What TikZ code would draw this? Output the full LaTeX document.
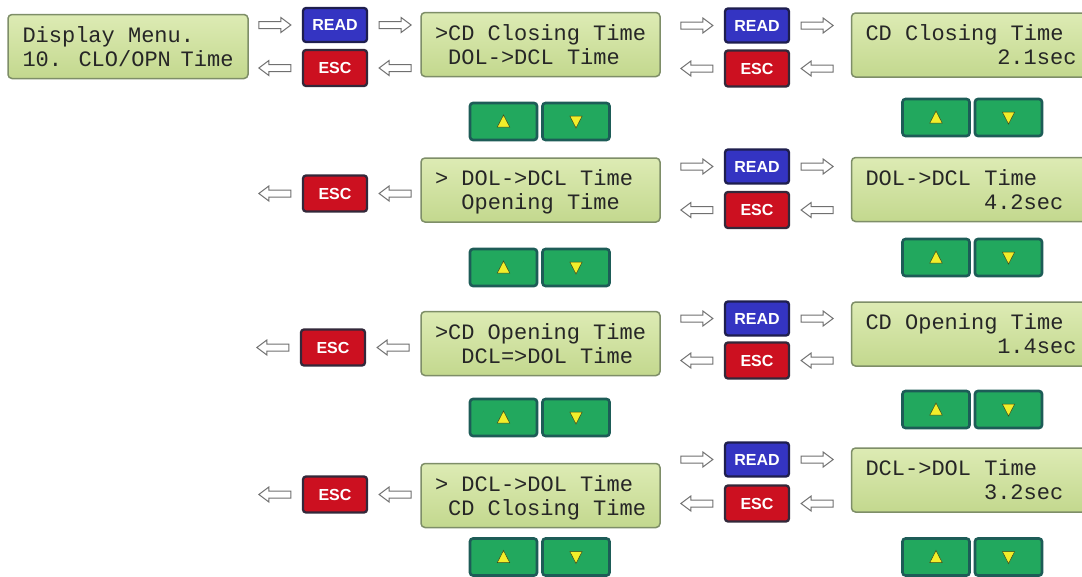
\documentclass[tikz,border=0pt]{standalone}
\usepackage{fontspec}
\setmainfont{Liberation Sans}
\newfontfamily\lcdfont{Liberation Mono}
\usetikzlibrary{calc}
\definecolor{lcdtop}{HTML}{DDEBB4}
\definecolor{lcdbot}{HTML}{C3D88E}
\definecolor{lcdline}{HTML}{7E8E68}
\definecolor{lcdtext}{HTML}{262626}
\definecolor{readfill}{HTML}{3434C2}
\definecolor{readline}{HTML}{1E1E4E}
\definecolor{escfill}{HTML}{CC1020}
\definecolor{escline}{HTML}{33283A}
\definecolor{navfill}{HTML}{22A85E}
\definecolor{navline}{HTML}{1D5C57}
\definecolor{trifill}{HTML}{F2EE2A}
\definecolor{triline}{HTML}{3F4A18}
\definecolor{arrline}{HTML}{707070}

\newcommand\lcdtwo[2]{\vbox{\baselineskip=24pt\hbox to 211pt{#1\hfil}\hbox to 211pt{#2\hfil}}}
\newcommand\lcdval[2]{\vbox{\baselineskip=24pt\hbox to 211pt{#1\hfil}\hbox to 211pt{\hfil#2}}}
\newcommand\navpair[3]{%
  \node[navbtn] (#1u) at (#2,#3) {};
  \node[navbtn] (#1d) at (#2+72.5,#3) {};
  \filldraw[trist] ($(#1u)+(0,-6.5)$) -- ($(#1u)+(6.2,5.5)$) -- ($(#1u)+(-6.2,5.5)$) -- cycle;
  \filldraw[trist] ($(#1d)+(0,6.5)$) -- ($(#1d)+(6.2,-5.5)$) -- ($(#1d)+(-6.2,-5.5)$) -- cycle;
}

\begin{document}
\begin{tikzpicture}[x=1pt,y=-1pt,
  lcd/.style={draw=lcdline, line width=1.5pt, rounded corners=4pt,
    top color=lcdtop, bottom color=lcdbot, minimum width=239pt, minimum height=64pt,
    inner sep=0pt, font=\lcdfont\fontsize{22}{24}\selectfont, text=lcdtext,
    text height=39pt, text depth=0pt},
  btn/.style={rounded corners=3pt, line width=2.3pt, minimum width=64pt, inner sep=0pt,
    text=white, font=\bfseries\fontsize{16}{16}\selectfont},
  readbtn/.style={btn, draw=readline, fill=readfill, minimum height=34pt},
  escbtn/.style={btn, draw=escline, fill=escfill, minimum height=36pt},
  navbtn/.style={draw=navline, fill=navfill, line width=2.6pt, rounded corners=3pt,
    minimum width=67pt, minimum height=37pt, inner sep=0pt},
  trist/.style={fill=trifill, draw=triline, line width=0.5pt},
  harrowbase/.style={draw=arrline, fill=white, line width=1pt, line join=miter},
  harrowT/.style={harrowbase, to path={let \p1=(\tikztostart), \p2=(\tikztotarget),
    \n1={ifthenelse(\x2>\x1,1,-1)}, \p3=({\x2-11*\n1},\y2), \p4=({\x3-32*\n1},\y2) in
    (\x4,{\y3+3.5}) -- ({\x3-10*\n1},{\y3+3.5}) -- ({\x3-10*\n1},{\y3+7.5}) -- (\x3,\y3)
    -- ({\x3-10*\n1},{\y3-7.5}) -- ({\x3-10*\n1},{\y3-3.5}) -- (\x4,{\y3-3.5}) -- cycle}},
  harrowS/.style={harrowbase, to path={let \p1=(\tikztostart), \p2=(\tikztotarget),
    \n1={ifthenelse(\x2>\x1,1,-1)}, \p4=({\x1+11*\n1},\y1), \p3=({\x4+32*\n1},\y1) in
    (\x4,{\y3+3.5}) -- ({\x3-10*\n1},{\y3+3.5}) -- ({\x3-10*\n1},{\y3+7.5}) -- (\x3,\y3)
    -- ({\x3-10*\n1},{\y3-7.5}) -- ({\x3-10*\n1},{\y3-3.5}) -- (\x4,{\y3-3.5}) -- cycle}}
]
\useasboundingbox (0,0) rectangle (1082,576);
\clip (0,0) rectangle (1082,576);
\fill[white] (0,0) rectangle (1082,576);

% ---------- Row 1
\node[lcd, minimum width=240pt] (lcdA) at (128,46.5) {\lcdtwo{Display Menu.}{10. CLO/OPN Time}};
\node[readbtn] (readB1) at (335,25) {READ};
\node[escbtn] (escB1) at (335,68) {ESC};
\node[lcd] (lcdC1) at (540.5,44.5) {\lcdtwo{>CD Closing Time}{\ DOL->DCL Time}};
\node[readbtn] (readD1) at (757,25.5) {READ};
\node[escbtn] (escD1) at (757,68.5) {ESC};
\node[lcd] (lcdE1) at (971,45) {\lcdval{CD Closing Time}{2.1sec}};
\navpair{navCa}{503.5}{121.5}
\navpair{navEa}{936}{117.5}

\draw[harrowT] (lcdA.east |- readB1.west) to (readB1.west);
\draw[harrowS] (escB1.west) to (lcdA.east |- escB1.west);
\draw[harrowS] (readB1.east) to (lcdC1.west |- readB1.east);
\draw[harrowT] (lcdC1.west |- escB1.east) to (escB1.east);
\draw[harrowT] (lcdC1.east |- readD1.west) to (readD1.west);
\draw[harrowS] (escD1.west) to (lcdC1.east |- escD1.west);
\draw[harrowS] (readD1.east) to (lcdE1.west |- readD1.east);
\draw[harrowT] (lcdE1.west |- escD1.east) to (escD1.east);

% ---------- Row 2
\node[escbtn] (escB2) at (335,193.5) {ESC};
\coordinate (outB2) at (240,193.5);
\node[lcd] (lcdC2) at (540.5,190) {\lcdtwo{> DOL->DCL Time}{\ \ Opening Time}};
\node[readbtn] (readD2) at (757,166.5) {READ};
\node[escbtn] (escD2) at (757,210) {ESC};
\node[lcd] (lcdE2) at (971,189.5) {\lcdval{DOL->DCL Time}{4.2sec\ }};
\navpair{navCb}{503.5}{267.5}
\navpair{navEb}{936}{257.5}

\draw[harrowS] (escB2.west) to (outB2);
\draw[harrowT] (lcdC2.west |- escB2.east) to (escB2.east);
\draw[harrowT] (lcdC2.east |- readD2.west) to (readD2.west);
\draw[harrowS] (escD2.west) to (lcdC2.east |- escD2.west);
\draw[harrowS] (readD2.east) to (lcdE2.west |- readD2.east);
\draw[harrowT] (lcdE2.west |- escD2.east) to (escD2.east);

% ---------- Row 3
\node[escbtn] (escB3) at (333,347.5) {ESC};
\coordinate (outB3) at (240,347.5);
\node[lcd] (lcdC3) at (540.5,343.5) {\lcdtwo{>CD Opening Time}{\ \ DCL=>DOL Time}};
\node[readbtn] (readD3) at (757,318.5) {READ};
\node[escbtn] (escD3) at (757,360.5) {ESC};
\node[lcd] (lcdE3) at (971,334) {\lcdval{CD Opening Time}{1.4sec}};
\navpair{navCc}{503.5}{417.5}
\navpair{navEc}{936}{409.5}

\draw[harrowS] (escB3.west) to (outB3);
\draw[harrowT] (lcdC3.west |- escB3.east) to (escB3.east);
\draw[harrowT] (lcdC3.east |- readD3.west) to (readD3.west);
\draw[harrowS] (escD3.west) to (lcdC3.east |- escD3.west);
\draw[harrowS] (readD3.east) to (lcdE3.west |- readD3.east);
\draw[harrowT] (lcdE3.west |- escD3.east) to (escD3.east);

% ---------- Row 4
\node[escbtn] (escB4) at (335,494.5) {ESC};
\coordinate (outB4) at (240,494.5);
\node[lcd] (lcdC4) at (540.5,495.5) {\lcdtwo{> DCL->DOL Time}{\ CD Closing Time}};
\node[readbtn] (readD4) at (757,459.5) {READ};
\node[escbtn] (escD4) at (757,503.5) {ESC};
\node[lcd] (lcdE4) at (971,480) {\lcdval{DCL->DOL Time}{3.2sec\ }};
\navpair{navCd}{503.5}{557}
\navpair{navEd}{936}{557}

\draw[harrowS] (escB4.west) to (outB4);
\draw[harrowT] (lcdC4.west |- escB4.east) to (escB4.east);
\draw[harrowT] (lcdC4.east |- readD4.west) to (readD4.west);
\draw[harrowS] (escD4.west) to (lcdC4.east |- escD4.west);
\draw[harrowS] (readD4.east) to (lcdE4.west |- readD4.east);
\draw[harrowT] (lcdE4.west |- escD4.east) to (escD4.east);
\end{tikzpicture}
\end{document}
